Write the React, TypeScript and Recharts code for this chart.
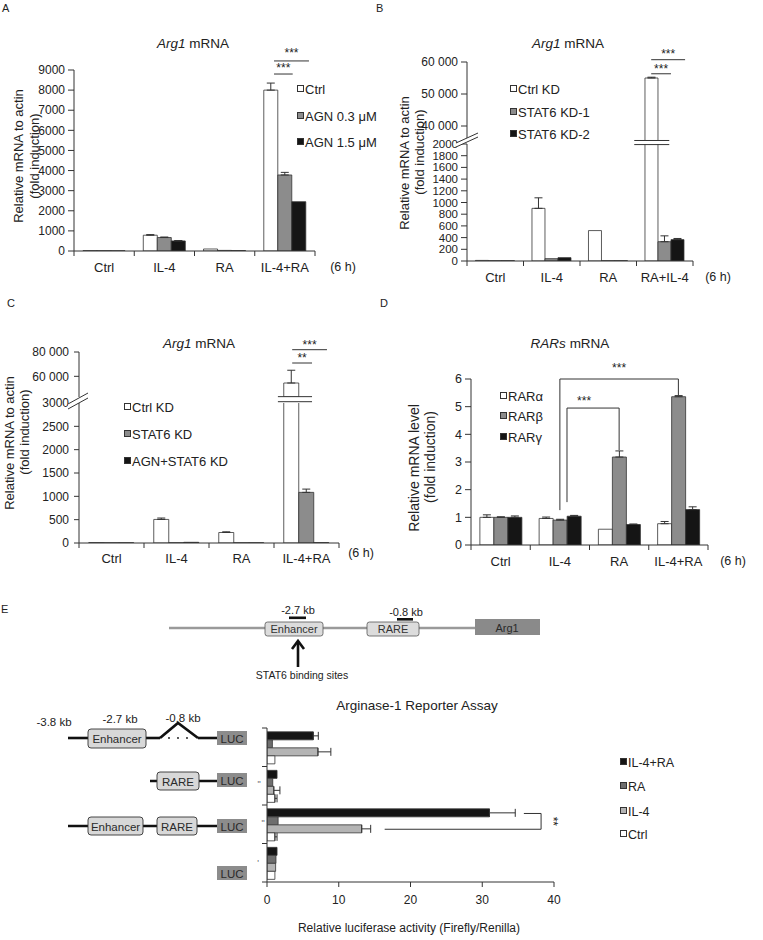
import React from 'react';
import { BarChart, Bar, XAxis, YAxis, ErrorBar, ReferenceLine, ReferenceArea, Legend } from 'recharts';

const FONT = '"Liberation Sans", Arial, Helvetica, sans-serif';
const INK = '#222222';
const EDGE = '#333333';
const WHITE = '#ffffff';
const GREY = '#8c8c8c';
const BLACK = '#151515';
const DARKGREY = '#6e6e6e';
const LIGHTGREY = '#b4b4b4';

// ---------------- Panel A ----------------
const aCategories = ['Ctrl', 'IL-4', 'RA', 'IL-4+RA'];
const aSeriesNames = ['Ctrl', 'AGN 0.3 \u03bcM', 'AGN 1.5 \u03bcM'];
const aCtrl = [20, 785, 100, 8000];
const aAgn03 = [15, 670, 30, 3780];
const aAgn15 = [10, 500, 20, 2450];
const aCtrlErr = [null, 30, null, 350];
const aAgn03Err = [null, 25, null, 130];
const aAgn15Err = [null, 20, null, null];
const aYTicks = [0, 1000, 2000, 3000, 4000, 5000, 6000, 7000, 8000, 9000];

// ---------------- Panel B ----------------
const bCategories = ['Ctrl', 'IL-4', 'RA', 'RA+IL-4'];
const bSeriesNames = ['Ctrl KD', 'STAT6 KD-1', 'STAT6 KD-2'];
const bCtrlKd = [10, 900, 520, 55000];
const bStat6Kd1 = [5, 40, 5, 330];
const bStat6Kd2 = [5, 57, 5, 365];
const bCtrlKdErr = [null, 180, null, 250];
const bStat6Kd1Err = [null, null, null, 100];
const bStat6Kd2Err = [null, null, null, 20];
const bLowerTicks = [0, 200, 400, 600, 800, 1000, 1200, 1400, 1600, 1800, 2000];
const bUpperTicks = [40000, 50000, 60000];

// ---------------- Panel C ----------------
const cCategories = ['Ctrl', 'IL-4', 'RA', 'IL-4+RA'];
const cSeriesNames = ['Ctrl KD', 'STAT6 KD', 'AGN+STAT6 KD'];
const cCtrlKd = [10, 505, 225, 54500];
const cStat6Kd = [5, 5, 5, 1085];
const cAgnStat6Kd = [5, 15, 5, 8];
const cCtrlKdErr = [null, 30, 15, 10500];
const cStat6KdErr = [null, null, null, 70];
const cAgnStat6KdErr = [null, null, null, null];
const cLowerTicks = [0, 500, 1000, 1500, 2000, 2500, 3000];
const cUpperTicks = [60000, 80000];

// ---------------- Panel D ----------------
const dCategories = ['Ctrl', 'IL-4', 'RA', 'IL-4+RA'];
const dSeriesNames = ['RAR\u03b1', 'RAR\u03b2', 'RAR\u03b3'];
const dRarA = [1.0, 0.96, 0.57, 0.77];
const dRarB = [1.0, 0.9, 3.18, 5.36];
const dRarG = [1.0, 1.04, 0.74, 1.28];
const dRarAErr = [0.09, 0.05, null, 0.08];
const dRarBErr = [0.02, 0.03, 0.22, 0.04];
const dRarGErr = [0.05, 0.03, 0.02, 0.1];
const dYTicks = [0, 1, 2, 3, 4, 5, 6];

// ---------------- Panel E ----------------
const eConstructs = ['Enhancer-(\u0394)-LUC', 'RARE-LUC', 'Enhancer-RARE-LUC', 'LUC'];
const eSeriesNames = ['IL-4+RA', 'RA', 'IL-4', 'Ctrl'];
const eIl4Ra = [6.45, 1.4, 31.0, 1.4];
const eRa = [0.75, 0.8, 1.55, 1.25];
const eIl4 = [7.1, 0.95, 13.2, 1.2];
const eCtrl = [1.1, 1.1, 1.1, 1.1];
const eIl4RaErr = [0.7, null, 3.6, null];
const eRaErr = [null, null, null, null];
const eIl4Err = [1.8, 0.85, 1.25, null];
const eCtrlErr = [null, 0.3, 0.3, null];
const eXTicks = [0, 10, 20, 30, 40];

const GROUP_TICKS = [0, 0.5, 1, 1.5, 2, 2.5, 3, 3.5, 4];

const spaced = (v: number) => String(v).replace(/\B(?=(\d{3})+(?!\d))/g, ' ');

const aSeries = [
  { name: aSeriesNames[0], fill: WHITE, values: aCtrl, errors: aCtrlErr },
  { name: aSeriesNames[1], fill: GREY, values: aAgn03, errors: aAgn03Err },
  { name: aSeriesNames[2], fill: BLACK, values: aAgn15, errors: aAgn15Err },
];
const bSeries = [
  { name: bSeriesNames[0], fill: WHITE, values: bCtrlKd, errors: bCtrlKdErr },
  { name: bSeriesNames[1], fill: GREY, values: bStat6Kd1, errors: bStat6Kd1Err },
  { name: bSeriesNames[2], fill: BLACK, values: bStat6Kd2, errors: bStat6Kd2Err },
];
const cSeries = [
  { name: cSeriesNames[0], fill: WHITE, values: cCtrlKd, errors: cCtrlKdErr },
  { name: cSeriesNames[1], fill: GREY, values: cStat6Kd, errors: cStat6KdErr },
  { name: cSeriesNames[2], fill: BLACK, values: cAgnStat6Kd, errors: cAgnStat6KdErr },
];
const dSeries = [
  { name: dSeriesNames[0], fill: WHITE, values: dRarA, errors: dRarAErr },
  { name: dSeriesNames[1], fill: GREY, values: dRarB, errors: dRarBErr },
  { name: dSeriesNames[2], fill: BLACK, values: dRarG, errors: dRarGErr },
];
const eSeries = [
  { name: eSeriesNames[0], fill: BLACK, values: eIl4Ra, errors: eIl4RaErr },
  { name: eSeriesNames[1], fill: DARKGREY, values: eRa, errors: eRaErr },
  { name: eSeriesNames[2], fill: LIGHTGREY, values: eIl4, errors: eIl4Err },
  { name: eSeriesNames[3], fill: WHITE, values: eCtrl, errors: eCtrlErr },
];

function GroupTick(props: any) {
  const { x, y, payload, cats, labelDy = 16, fontSize = 13 } = props;
  const v = Number(payload && payload.value);
  if (Number.isInteger(v)) {
    return <line x1={x} y1={y} x2={x} y2={y + 5} stroke={EDGE} strokeWidth={1} />;
  }
  const label = cats[Math.floor(v)];
  return (
    <text x={x} y={y + labelDy} dy="0.355em" textAnchor="middle" fontSize={fontSize} fontFamily={FONT} fill={INK}>
      {label}
    </text>
  );
}

function StarLabel(props: any) {
  const { viewBox, text, dy = 2, dx = 0, fontSize = 12, vertical } = props;
  if (!viewBox) return null;
  const x = viewBox.x || 0;
  const y = viewBox.y || 0;
  const w = viewBox.width || 0;
  const h = viewBox.height || 0;
  if (vertical) {
    const cx = x + dx;
    const cy = y + h / 2;
    return (
      <text x={cx} y={cy} transform={`rotate(90 ${cx} ${cy})`} textAnchor="middle" dominantBaseline="central" fontSize={fontSize} fontFamily={FONT} fill={INK}>
        {text}
      </text>
    );
  }
  return (
    <text x={x + w / 2 + dx} y={y - dy} textAnchor="middle" fontSize={fontSize} fontFamily={FONT} fill={INK}>
      {text}
    </text>
  );
}

function LegendItems(props: any) {
  const { series, x, ys, fontSize = 13 } = props;
  return (
    <div style={{ position: 'relative', width: 1, height: 1 }}>
      {series.map((s: any, k: number) => (
        <React.Fragment key={k}>
          <div
            style={{
              position: 'absolute', left: x, top: ys[k] - 5, width: 5, height: 5,
              background: s.fill, border: `1px solid ${EDGE}`,
            }}
          />
          <div
            style={{
              position: 'absolute', left: x + 8, top: ys[k] - 9, height: 18, lineHeight: '18px',
              whiteSpace: 'nowrap', fontFamily: FONT, fontSize, color: INK,
            }}
          >
            {s.name}
          </div>
        </React.Fragment>
      ))}
    </div>
  );
}

function GroupedChart(p: any) {
  const data = p.cats.map((cat: string, i: number) => {
    const row: any = { cat, pos: i + 0.5 };
    p.series.forEach((s: any, k: number) => {
      const v = s.values[i];
      const show = p.keep ? p.keep(v) : true;
      const e = s.errors[i];
      row['v' + k] = show ? v : null;
      row['e' + k] = show && e != null && (p.keepErr ? p.keepErr(v) : true) ? [0, e] : null;
    });
    return row;
  });
  return (
    <div style={{ position: 'absolute', left: p.left, top: p.top, width: p.width, height: p.height }}>
      <BarChart width={p.width} height={p.height} data={data} margin={p.margin} barGap={0} barCategoryGap={p.gap || '15%'}>
        <XAxis
          xAxisId="num" dataKey="pos" type="number" domain={[0, 4]} allowDataOverflow ticks={GROUP_TICKS} interval={0}
          hide={!p.showX} tickLine={false} tickSize={0} tickMargin={0} height={30} stroke={EDGE}
          tick={<GroupTick cats={p.cats} labelDy={p.labelDy || 16} />}
        />
        <XAxis xAxisId="cat" dataKey="cat" type="category" hide height={0} />
        <YAxis
          type="number" domain={p.domain} ticks={p.ticks} interval={0} allowDataOverflow width={p.yWidth}
          tickSize={p.tickSize || 6} tickMargin={p.tickMargin || 3} tickFormatter={p.fmt}
          tick={{ fontSize: p.tickFont || 12, fill: INK, fontFamily: FONT }} stroke={EDGE}
        />
        {p.series.map((s: any, k: number) => (
          <Bar key={k} xAxisId="cat" dataKey={'v' + k} name={s.name} fill={s.fill} stroke={EDGE} strokeWidth={0.8} isAnimationActive={false}>
            <ErrorBar dataKey={'e' + k} width={4} stroke={EDGE} strokeWidth={1} direction="y" isAnimationActive={false} />
          </Bar>
        ))}
        {p.children}
        {p.legend ? (
          <Legend
            layout="horizontal" verticalAlign="middle" align="center"
            wrapperStyle={{ left: 0, top: 0, width: 1, height: 1 }}
            content={() => <LegendItems series={p.series} x={p.legend.x} ys={p.legend.ys} fontSize={p.legend.fontSize} />}
          />
        ) : null}
      </BarChart>
    </div>
  );
}

function sig(x1: number, x2: number, y: number, text?: string, dy?: number, dx?: number) {
  return (
    <ReferenceLine
      xAxisId="num" segment={[{ x: x1, y }, { x: x2, y }]} stroke={EDGE} strokeWidth={1} ifOverflow="visible"
      label={text ? <StarLabel text={text} dy={dy} dx={dx} /> : undefined}
    />
  );
}
function vseg(x: number, y1: number, y2: number) {
  return <ReferenceLine xAxisId="num" segment={[{ x, y: y1 }, { x, y: y2 }]} stroke={EDGE} strokeWidth={1} ifOverflow="visible" />;
}

function PanelE() {
  const data = eConstructs.map((name, i) => {
    const row: any = { name, pos: i + 0.5 };
    eSeries.forEach((s, k) => {
      row['v' + k] = s.values[i];
      const e = s.errors[i];
      row['e' + k] = e != null ? [0, e] : null;
    });
    return row;
  });
  return (
    <div style={{ position: 'absolute', left: 150, top: 690, width: 613, height: 250 }}>
      <BarChart layout="vertical" width={613} height={250} data={data} margin={{ top: 38, right: 209, bottom: 28, left: 0 }} barGap={0} barCategoryGap="10%">
        <YAxis
          yAxisId="num" dataKey="pos" type="number" domain={[0, 4]} allowDataOverflow ticks={[0, 1, 2, 3, 4]} interval={0}
          width={117} tickSize={5} tickFormatter={() => ''} stroke={EDGE}
        />
        <YAxis yAxisId="cat" type="category" dataKey="name" hide width={0} />
        <XAxis
          type="number" domain={[0, 40]} ticks={eXTicks} interval={0} allowDataOverflow tickSize={5} tickMargin={8}
          tick={{ fontSize: 12, fill: INK, fontFamily: FONT }} stroke={EDGE} height={30}
        />
        {eSeries.map((s, k) => (
          <Bar key={k} yAxisId="cat" dataKey={'v' + k} name={s.name} fill={s.fill} stroke={EDGE} strokeWidth={0.8} isAnimationActive={false}>
            <ErrorBar dataKey={'e' + k} width={4} stroke={EDGE} strokeWidth={1} direction="x" isAnimationActive={false} />
          </Bar>
        ))}
        <ReferenceLine yAxisId="num" segment={[{ x: 35.8, y: 2.22 }, { x: 38.2, y: 2.22 }]} stroke={EDGE} ifOverflow="visible" />
        <ReferenceLine
          yAxisId="num" segment={[{ x: 38.2, y: 2.22 }, { x: 38.2, y: 2.63 }]} stroke={EDGE} ifOverflow="visible"
          label={<StarLabel text="**" vertical dx={12} fontSize={12} />}
        />
        <ReferenceLine yAxisId="num" segment={[{ x: 16.4, y: 2.63 }, { x: 38.2, y: 2.63 }]} stroke={EDGE} ifOverflow="visible" />
        <Legend
          layout="horizontal" verticalAlign="middle" align="center"
          wrapperStyle={{ left: 0, top: 0, width: 1, height: 1 }}
          content={() => <LegendItems series={eSeries} x={470} ys={[73, 97, 122, 145]} fontSize={12.5} />}
        />
      </BarChart>
    </div>
  );
}

const T = (props: any) => (
  <text fontFamily={FONT} fill={INK} dominantBaseline="central" {...props} />
);
const YLabel = ({ x, y, text, size = 13 }: any) => (
  <text x={x} y={y} transform={`rotate(-90 ${x} ${y})`} textAnchor="middle" dominantBaseline="central" fontSize={size} fontFamily={FONT} fill={INK}>
    {text}
  </text>
);

const LINE = '#111111';
const Box = ({ x, y, w, h, label, fs = 11.5 }: any) => (
  <g>
    <rect x={x} y={y} width={w} height={h} rx={3} fill="#d8d8d8" stroke="#333" strokeWidth={0.9} />
    <T x={x + w / 2} y={y + h / 2 + 0.5} textAnchor="middle" fontSize={fs} fill="#2a2a2a">{label}</T>
  </g>
);
const Luc = ({ y }: any) => (
  <g>
    <rect x={217} y={y - 7} width={30} height={14} fill="#8c8c8c" />
    <T x={232} y={y + 0.5} textAnchor="middle" fontSize={11.5} fill="#2a2a2a">LUC</T>
  </g>
);

function Overlay() {
  return (
    <svg width={763} height={940} style={{ position: 'absolute', left: 0, top: 0, pointerEvents: 'none' }}>
      {/* panel letters */}
      <T x={2} y={8} fontSize={11}>A</T>
      <T x={376} y={8} fontSize={11}>B</T>
      <T x={7} y={303} fontSize={11}>C</T>
      <T x={380} y={303} fontSize={11}>D</T>
      <T x={1} y={609} fontSize={11}>E</T>

      {/* titles */}
      <T x={193} y={43} textAnchor="middle" fontSize={13.5}><tspan fontStyle="italic">Arg1</tspan>{' mRNA'}</T>
      <T x={568} y={43} textAnchor="middle" fontSize={13.5}><tspan fontStyle="italic">Arg1</tspan>{' mRNA'}</T>
      <T x={199} y={343} textAnchor="middle" fontSize={13.5}><tspan fontStyle="italic">Arg1</tspan>{' mRNA'}</T>
      <T x={570} y={343} textAnchor="middle" fontSize={13.5}><tspan fontStyle="italic">RARs</tspan>{' mRNA'}</T>

      {/* y labels */}
      <YLabel x={18.5} y={156} text="Relative mRNA to actin" />
      <YLabel x={34.5} y={156} text="(fold induction)" />
      <YLabel x={404} y={163} text="Relative mRNA to actin" />
      <YLabel x={419} y={152} text="(fold induction)" />
      <YLabel x={9} y={443} text="Relative mRNA to actin" />
      <YLabel x={24.5} y={432} text="(fold induction)" />
      <YLabel x={414} y={468} text="Relative mRNA level" size={14} />
      <YLabel x={430} y={457} text="(fold induction)" size={14} />

      {/* (6 h) */}
      <T x={343} y={267} textAnchor="middle" fontSize={12.5}>(6 h)</T>
      <T x={718} y={277} textAnchor="middle" fontSize={12.5}>(6 h)</T>
      <T x={361} y={553} textAnchor="middle" fontSize={12.5}>(6 h)</T>
      <T x={733} y={561} textAnchor="middle" fontSize={12.5}>(6 h)</T>

      {/* axis breaks */}
      <polygon points="456,143 478,133 478,137 456,147" fill="#fff" />
      <line x1={456} y1={143} x2={478} y2={133} stroke={EDGE} strokeWidth={1} />
      <line x1={456} y1={147} x2={478} y2={137} stroke={EDGE} strokeWidth={1} />
      <polygon points="68,404 88,393 88,398 68,409" fill="#fff" />
      <line x1={68} y1={404} x2={88} y2={393} stroke={EDGE} strokeWidth={1} />
      <line x1={68} y1={409} x2={88} y2={398} stroke={EDGE} strokeWidth={1} />

      {/* gene diagram */}
      <line x1={169} y1={628} x2={475} y2={628} stroke="#9a9a9a" strokeWidth={2.6} />
      <rect x={265} y={622} width={58} height={14} rx={2.5} fill="#dcdcdc" stroke="#555" strokeWidth={0.8} />
      <T x={294} y={629} textAnchor="middle" fontSize={11} fill="#333">Enhancer</T>
      <rect x={367} y={622} width={52} height={14} rx={2.5} fill="#dcdcdc" stroke="#555" strokeWidth={0.8} />
      <T x={393} y={629} textAnchor="middle" fontSize={11} fill="#333">RARE</T>
      <rect x={475} y={619} width={65} height={16} fill="#8a8a8a" />
      <T x={507} y={627.5} textAnchor="middle" fontSize={11} fill="#2a2a2a">Arg1</T>
      <rect x={289} y={616.5} width={17} height={2.6} fill={LINE} />
      <rect x={397} y={618} width={16} height={2.6} fill={LINE} />
      <T x={298} y={610} textAnchor="middle" fontSize={11}>-2.7 kb</T>
      <T x={406} y={612} textAnchor="middle" fontSize={11}>-0.8 kb</T>
      <line x1={298} y1={667} x2={298} y2={642} stroke={LINE} strokeWidth={2.6} />
      <polyline points="292,649 298,641 304,649" fill="none" stroke={LINE} strokeWidth={2.6} />
      <T x={302} y={675} textAnchor="middle" fontSize={10.5}>STAT6 binding sites</T>

      {/* E title and x label */}
      <T x={417} y={705} textAnchor="middle" fontSize={13.5}>Arginase-1 Reporter Assay</T>
      <T x={409} y={928} textAnchor="middle" fontSize={12}>Relative luciferase activity (Firefly/Renilla)</T>

      {/* construct diagrams */}
      <T x={54} y={722} textAnchor="middle" fontSize={11.5}>-3.8 kb</T>
      <T x={120} y={719} textAnchor="middle" fontSize={11.5}>-2.7 kb</T>
      <T x={183} y={718} textAnchor="middle" fontSize={11.5}>-0.8 kb</T>
      <line x1={68} y1={738} x2={88} y2={738} stroke={LINE} strokeWidth={2.6} />
      <line x1={146} y1={738} x2={160} y2={738} stroke={LINE} strokeWidth={2.6} />
      <polyline points="160,738 178,723 198,738" fill="none" stroke={LINE} strokeWidth={2.6} />
      <circle cx={169} cy={738} r={0.9} fill={LINE} />
      <circle cx={178} cy={738} r={0.9} fill={LINE} />
      <circle cx={187} cy={738} r={0.9} fill={LINE} />
      <line x1={198} y1={738} x2={217} y2={738} stroke={LINE} strokeWidth={2.6} />
      <Box x={88} y={729} w={58} h={19} label="Enhancer" />
      <Luc y={738} />

      <line x1={150} y1={781} x2={217} y2={781} stroke={LINE} strokeWidth={2.6} />
      <Box x={157} y={772} w={42} h={18} label="RARE" />
      <Luc y={780} />

      <line x1={68} y1={826} x2={217} y2={826} stroke={LINE} strokeWidth={2.6} />
      <Box x={88} y={817} w={55} h={18} label="Enhancer" />
      <Box x={157} y={817} w={40} h={18} label="RARE" />
      <Luc y={826} />

      <Luc y={873} />

      <T x={259} y={784} textAnchor="middle" fontSize={9} fill="#666">"</T>
      <T x={263} y={823} textAnchor="middle" fontSize={9} fill="#666">"</T>
      <T x={258} y={863} textAnchor="middle" fontSize={9} fill="#666">'</T>
    </svg>
  );
}

export default function App() {
  return (
    <div style={{ position: 'absolute', left: 0, top: 0, width: 763, height: 940, background: '#fff', fontFamily: FONT, overflow: 'hidden' }}>
      {/* Panel A */}
      <GroupedChart
        left={0} top={0} width={380} height={300} margin={{ top: 70, right: 65, bottom: 19, left: 0 }} yWidth={74}
        domain={[0, 9000]} ticks={aYTicks} cats={aCategories} series={aSeries} showX
        legend={{ x: 297, ys: [90, 117, 143], fontSize: 13 }}
      >
        {sig(3.32, 3.9, 9450, '***', 3.9)}
        {sig(3.32, 3.63, 8800, '***', 1.9)}
      </GroupedChart>

      {/* Panel B upper */}
      <GroupedChart
        left={380} top={0} width={383} height={150} margin={{ top: 62, right: 70, bottom: 8, left: 0 }} yWidth={87}
        domain={[35000, 60000]} ticks={bUpperTicks} fmt={spaced} cats={bCategories} series={bSeries}
        keep={(v: number) => v >= 35000} showX={false}
      >
        {sig(3.26, 3.86, 60720, '***', 1.9)}
        {sig(3.26, 3.61, 56320, '***', 0.5)}
      </GroupedChart>
      {/* Panel B lower */}
      <GroupedChart
        left={380} top={0} width={383} height={300} margin={{ top: 144, right: 70, bottom: 9, left: 0 }} yWidth={87}
        domain={[0, 2000]} ticks={bLowerTicks} tickFont={11.5} cats={bCategories} series={bSeries}
        keepErr={(v: number) => v <= 2000} showX legend={{ x: 130, ys: [90, 113, 135], fontSize: 13 }}
      >
        <ReferenceArea xAxisId="num" x1={2.96} x2={3.58} y1={1990} y2={2060} fill="#ffffff" fillOpacity={1} stroke="none" ifOverflow="visible" />
        {sig(2.96, 3.58, 2060)}
        {sig(2.96, 3.58, 1990)}
      </GroupedChart>

      {/* Panel C upper */}
      <GroupedChart
        left={0} top={280} width={380} height={130} margin={{ top: 72, right: 41, bottom: 13, left: 0 }} yWidth={79}
        domain={[43000, 80000]} ticks={cUpperTicks} fmt={spaced} cats={cCategories} series={cSeries}
        keep={(v: number) => v >= 43000} showX={false} tickSize={5} tickMargin={5}
      >
        {sig(3.28, 3.815, 81890, '***', 1.2)}
        {sig(3.28, 3.585, 70950, '**', 1.2)}
      </GroupedChart>
      {/* Panel C lower */}
      <GroupedChart
        left={0} top={280} width={380} height={300} margin={{ top: 123, right: 41, bottom: 7, left: 0 }} yWidth={79}
        domain={[0, 3000]} ticks={cLowerTicks} cats={cCategories} series={cSeries} tickSize={5} tickMargin={5}
        keepErr={(v: number) => v <= 3000} showX labelDy={15} legend={{ x: 124, ys: [128, 155, 182], fontSize: 13 }}
      >
        <ReferenceArea xAxisId="num" x1={3.06} x2={3.585} y1={3028} y2={3136} fill="#ffffff" fillOpacity={1} stroke="none" ifOverflow="visible" />
        {sig(3.06, 3.585, 3136)}
        {sig(3.06, 3.585, 3028)}
      </GroupedChart>

      {/* Panel D */}
      <GroupedChart
        left={380} top={280} width={383} height={300} margin={{ top: 99, right: 55, bottom: 5, left: 0 }} yWidth={91}
        domain={[0, 6]} ticks={dYTicks} tickFont={12.5} cats={dCategories} series={dSeries} showX
        legend={{ x: 120, ys: [117, 137, 158], fontSize: 13 }}
      >
        {vseg(1.5, 1.26, 6.0)}
        {sig(1.5, 3.5, 6.0, '***', 6.9)}
        {vseg(3.5, 6.0, 5.42)}
        {vseg(1.62, 1.55, 4.95)}
        {sig(1.62, 2.5, 4.95, '***', 2.9, -9)}
        {vseg(2.5, 4.95, 3.43)}
      </GroupedChart>

      <PanelE />
      <Overlay />
    </div>
  );
}
